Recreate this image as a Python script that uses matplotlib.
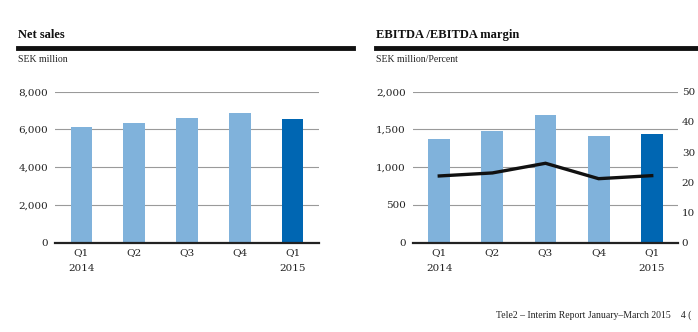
import matplotlib
matplotlib.use("Agg")
import matplotlib.pyplot as plt
from matplotlib.transforms import blended_transform_factory

quarters = ["Q1", "Q2", "Q3", "Q4", "Q1"]
years = ["2014", "", "", "", "2015"]
net_sales = [6150, 6350, 6590, 6890, 6540]
ebitda = [1370, 1480, 1690, 1415, 1440]
ebitda_margin = [22.1, 23.1, 26.3, 21.2, 22.2]

light_blue = "#80b2db"
dark_blue = "#0066b2"
bar_colors = [light_blue] * 4 + [dark_blue]

plt.rcParams.update({'font.family': "DejaVu Serif", 'font.size': 7.5})
narrow = "Liberation Serif"

W, H = 698, 332
fig = plt.figure(figsize=(W / 100, H / 100), dpi=100)


def px_axes(x0, x1, ytop, ybot):
    return fig.add_axes([x0 / W, 1 - ybot / H, (x1 - x0) / W, (ybot - ytop) / H])


def style_axis(ax, ymax, step):
    x = range(len(quarters))
    ax.set_xlim(-0.5, len(quarters) - 0.5)
    ax.set_ylim(0, ymax)
    ax.set_yticks(range(0, ymax + 1, step))
    ax.set_yticklabels([f"{v:,}" for v in range(0, ymax + 1, step)])
    ax.set_xticks(list(x))
    ax.set_xticklabels(quarters)
    ax.tick_params(axis='both', length=0, pad=5, colors="#222222")
    ax.tick_params(axis='x', pad=4)
    for s in ax.spines.values():
        s.set_visible(False)
    ax.grid(axis='y', color="#9a9a9a", linewidth=0.8, zorder=0)
    ax.set_axisbelow(True)
    ax.axhline(0, color="#222222", linewidth=1.6, zorder=4, clip_on=False)
    trans = blended_transform_factory(ax.transData, ax.transAxes)
    for i, yr in enumerate(years):
        if yr:
            ax.text(i, -0.17, yr, transform=trans, ha='center', va='center',
                    color="#222222")


# Net sales
ax1 = px_axes(55, 319, 91.7, 242.7)
ax1.bar(range(len(quarters)), net_sales, width=0.41, color=bar_colors, zorder=2)
style_axis(ax1, 8000, 2000)

# EBITDA / EBITDA margin
ax2 = px_axes(412.7, 678.3, 91.7, 242.7)
ax2.bar(range(len(quarters)), ebitda, width=0.41, color=bar_colors, zorder=2)
style_axis(ax2, 2000, 500)
ax3 = ax2.twinx()
ax3.plot(range(len(quarters)), ebitda_margin, color="#111111", linewidth=2.4,
         solid_joinstyle='miter', zorder=5)
ax3.set_ylim(0, 50)
ax3.set_yticks(range(0, 51, 10))
ax3.tick_params(axis='y', length=0, pad=2.5, colors="#222222")
for s in ax3.spines.values():
    s.set_visible(False)

# headers
fig.text(18 / W, 1 - 35 / H, "Net sales", fontsize=9, fontweight='bold',
         family=narrow, va='center', color="#111111")
fig.add_artist(plt.Line2D([18 / W, 353 / W], [1 - 47.5 / H] * 2, color="#111111",
                          linewidth=3.5))
fig.text(18 / W, 1 - 59 / H, "SEK million", fontsize=7, family=narrow,
         va='center', color="#222222")

fig.text(376 / W, 1 - 35 / H, "EBITDA /EBITDA margin", fontsize=9, fontweight='bold',
         family=narrow, va='center', color="#111111")
fig.add_artist(plt.Line2D([376 / W, 1.0], [1 - 47.5 / H] * 2, color="#111111",
                          linewidth=3.5))
fig.text(376 / W, 1 - 59 / H, "SEK million/Percent", fontsize=7, family=narrow,
         va='center', color="#222222")

fig.text(496 / W, 1 - 315 / H, "Tele2 \u2013 Interim Report January\u2013March 2015    4 (",
         fontsize=7, family=narrow, va='center', color="#222222")

fig.savefig("out.png", dpi=100)
